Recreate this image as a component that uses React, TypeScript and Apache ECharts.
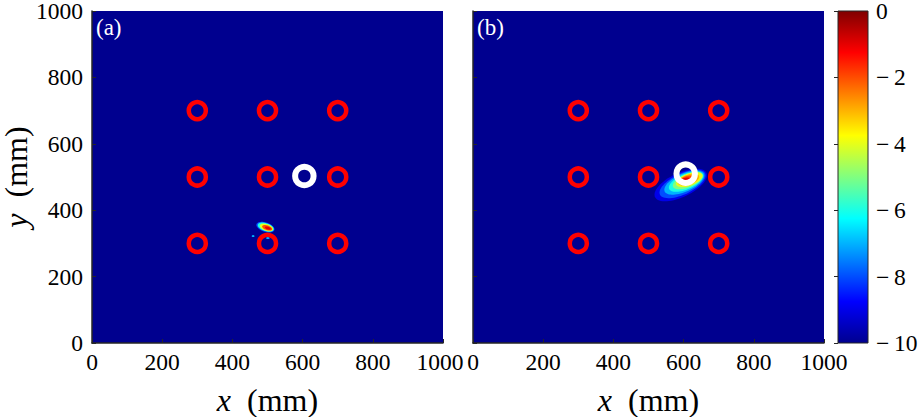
import React, { useEffect, useRef } from 'react';
import * as echarts from 'echarts';

// jet colormap, -10 (bottom) .. 0 (top)
const JET = ['#00008f', '#0000ff', '#0080ff', '#00ffff', '#80ff80', '#ffff00', '#ff8000', '#ff0000', '#800000'];
const AXIS_TICKS = [0, 200, 400, 600, 800, 1000];
const CBAR_TICKS = [-10, -8, -6, -4, -2, 0];

// sensor positions (red rings), mm
const sensorX = [300, 500, 700, 300, 500, 700, 300, 500, 700];
const sensorY = [300, 300, 300, 500, 500, 500, 700, 700, 700];
// true source position (white ring), mm
const sourceA = [605, 503];
const sourceB = [606, 510];

// panel (a) likelihood blob: contour level, centre, half-axes (mm), tilt (deg)
const blobALevel = [-8, -6, -4, -2, -1, -7, -7];
const blobAX = [494, 495, 497, 499, 501, 459, 501];
const blobAY = [349, 349, 348, 347, 346, 322, 316];
const blobARx = [27, 24, 20, 15, 9, 4, 5];
const blobARy = [14, 12, 10, 7, 4, 3, 3];
const blobAAngle = [-20, -20, -20, -20, -20, 0, 0];

// panel (b) likelihood blob
const blobBLevel = [-9, -8, -7, -6, -5, -4, -3, -2, -1];
const blobBX = [592, 597, 602, 607, 612, 616, 614, 610, 606];
const blobBY = [476, 479, 483, 486, 489, 492, 492, 491, 490];
const blobBRx = [82, 72, 62, 53, 46, 40, 32, 23, 14];
const blobBRy = [36, 31, 27, 23, 20, 18, 15, 12, 8];
const blobBAngle = [27, 27, 26, 25, 24, 22, 20, 18, 18];

const FONT = '"Liberation Serif", serif';
const AX = '#262626';

function zip(...arrs: number[][]) {
  return arrs[0].map((_, i) => arrs.map((a) => a[i]));
}

const ellipseItem = (params: any, api: any) => {
  const cx = api.value(1), cy = api.value(2), rx = api.value(3), ry = api.value(4);
  const a = (api.value(5) * Math.PI) / 180;
  const pts: number[][] = [];
  const N = 64;
  for (let k = 0; k < N; k++) {
    const t = (k / N) * 2 * Math.PI;
    const ex = rx * Math.cos(t), ey = ry * Math.sin(t);
    pts.push(api.coord([cx + ex * Math.cos(a) - ey * Math.sin(a), cy + ex * Math.sin(a) + ey * Math.cos(a)]));
  }
  return { type: 'polygon', shape: { points: pts }, style: { fill: api.visual('color') } };
};

const ringItem = (color: string, r: number, lw: number) => (params: any, api: any) => {
  const p = api.coord([api.value(0), api.value(1)]);
  const s = api.size([r, r]);
  return {
    type: 'circle',
    shape: { cx: p[0], cy: p[1], r: (s[0] + s[1]) / 2 },
    style: { fill: 'none', stroke: color, lineWidth: lw },
  };
};

const tickLabel = { color: '#000', fontFamily: FONT, fontSize: 23.5, lineHeight: 20 };
const nameStyle = {
  rich: {
    i: { fontFamily: FONT, fontStyle: 'italic', fontSize: 32, color: '#000', lineHeight: 30 },
    r: { fontFamily: FONT, fontSize: 32, color: '#000', padding: [0, 0, 0, 16], lineHeight: 30 },
  },
};
const fmt = (v: number) => String(v);

function xAxisFor(gi: number) {
  const shiftMax = gi === 0;
  return {
    type: 'value', gridIndex: gi, min: 0, max: 1000, interval: 200,
    axisLine: { show: true, onZero: false, lineStyle: { color: AX, width: 1.5 } },
    axisTick: { show: true, inside: true, length: 4, lineStyle: { color: AX } },
    axisLabel: {
      ...tickLabel, margin: 9,
      formatter: (v: number) => (shiftMax && v === 1000 ? '{m|' + v + '}' : String(v)),
      rich: { m: { fontFamily: FONT, fontSize: 23.5, color: '#000', padding: [0, 6, 0, 0] } },
    },
    splitLine: { show: false },
    name: '{i|x}{r|(mm)}', nameLocation: 'middle', nameGap: 42, nameTextStyle: nameStyle,
  };
}
function yAxisFor(gi: number, labels: boolean) {
  return {
    type: 'value', gridIndex: gi, min: 0, max: 1000, interval: 200,
    axisLine: { show: true, onZero: false, lineStyle: { color: AX, width: 1.5 } },
    axisTick: { show: true, inside: true, length: 4, lineStyle: { color: AX } },
    axisLabel: { ...tickLabel, margin: 9, show: labels, formatter: fmt },
    splitLine: { show: false },
    name: labels ? '{i|y}{r|(mm)}' : '', nameLocation: 'middle', nameGap: 58, nameRotate: 90, nameTextStyle: nameStyle,
  };
}

export default function App() {
  const ref = useRef<HTMLDivElement>(null);
  useEffect(() => {
    if (!ref.current) return;
    const chart = echarts.init(ref.current, null, { renderer: 'svg' });
    const sensors = zip(sensorX, sensorY);
    const gridBase = { outerBoundsMode: 'none', containLabel: false };
    const option: any = {
      animation: false,
      backgroundColor: '#fff',
      grid: [
        { ...gridBase, left: 92, top: 11, width: 351, height: 332, show: true, backgroundColor: JET[0], borderWidth: 0 },
        { ...gridBase, left: 473, top: 11, width: 351, height: 332, show: true, backgroundColor: JET[0], borderWidth: 0 },
        { ...gridBase, left: 838, top: 11, width: 30, height: 332 },
      ],
      xAxis: [xAxisFor(0), xAxisFor(1), { type: 'value', gridIndex: 2, min: 0, max: 1, show: false }],
      yAxis: [
        yAxisFor(0, true),
        yAxisFor(1, false),
        {
          type: 'value', gridIndex: 2, min: -10, max: 0, interval: 2, position: 'right',
          axisLine: { show: false },
          axisTick: { show: true, inside: true, length: 4, lineStyle: { color: AX } },
          axisLabel: { ...tickLabel, margin: 8, formatter: (v: number) => (v < 0 ? '\u2212\u2009' + Math.abs(v) : String(v)) },
          splitLine: { show: false },
        },
      ],
      visualMap: {
        type: 'continuous', show: false, min: -10, max: 0, dimension: 0, seriesIndex: [0, 1],
        inRange: { color: JET },
      },
      series: [
        { type: 'custom', xAxisIndex: 0, yAxisIndex: 0, renderItem: ellipseItem, encode: { x: 1, y: 2 },
          data: zip(blobALevel, blobAX, blobAY, blobARx, blobARy, blobAAngle), z: 2 },
        { type: 'custom', xAxisIndex: 1, yAxisIndex: 1, renderItem: ellipseItem, encode: { x: 1, y: 2 },
          data: zip(blobBLevel, blobBX, blobBY, blobBRx, blobBRy, blobBAngle), z: 2 },
        { type: 'custom', xAxisIndex: 0, yAxisIndex: 0, renderItem: ringItem('#ff0000', 25, 4.5), data: sensors, z: 3 },
        { type: 'custom', xAxisIndex: 1, yAxisIndex: 1, renderItem: ringItem('#ff0000', 25, 4.5), data: sensors, z: 3 },
        { type: 'custom', xAxisIndex: 0, yAxisIndex: 0, renderItem: ringItem('#ffffff', 27, 6), data: [sourceA], z: 4 },
        { type: 'custom', xAxisIndex: 1, yAxisIndex: 1, renderItem: ringItem('#ffffff', 27, 6), data: [sourceB], z: 4 },
        {
          type: 'custom', xAxisIndex: 2, yAxisIndex: 2, data: [[0, 0]],
          renderItem: (params: any, api: any) => {
            const p1 = api.coord([0, 0]);
            const p2 = api.coord([1, -10]);
            const cs = JET.map((c, i) => ({ offset: 1 - i / (JET.length - 1), color: c })).reverse();
            return {
              type: 'rect',
              shape: { x: p1[0], y: p1[1], width: p2[0] - p1[0], height: p2[1] - p1[1] },
              style: { fill: { type: 'linear', x: 0, y: 0, x2: 0, y2: 1, colorStops: cs }, stroke: AX, lineWidth: 1 },
            };
          },
        },
      ],
      graphic: [
        { type: 'text', left: 96, top: 16, style: { text: '(a)', fill: '#fff', font: `23px ${FONT}` } },
        { type: 'text', left: 477, top: 16, style: { text: '(b)', fill: '#fff', font: `23px ${FONT}` } },
      ],
    };
    chart.setOption(option);
    return () => chart.dispose();
  }, []);
  return <div ref={ref} style={{ position: 'fixed', left: 0, top: 0, width: 921, height: 417 }} />;
}
